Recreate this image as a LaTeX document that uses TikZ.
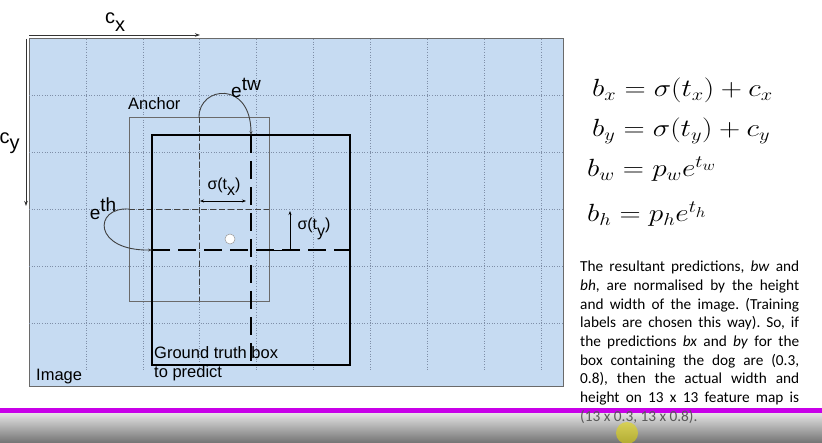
\documentclass[tikz,border=0pt]{standalone}
\usepackage{fontspec}
\setmainfont{Liberation Sans}
\newfontfamily\calib{Carlito}
\usetikzlibrary{arrows.meta}
\definecolor{imgblue}{HTML}{C6DBF2}
\definecolor{gridc}{HTML}{7F8FA8}
\definecolor{bordc}{HTML}{6A6A6A}
\definecolor{magbar}{HTML}{C800E8}
\frenchspacing
\tikzset{
  gridline/.style={gridc, line width=0.7pt, dash pattern=on 1pt off 1.6pt},
  lab/.style={inner sep=0pt, font=\fontsize{16.5}{19}\selectfont},
  biglab/.style={inner sep=0pt, font=\fontsize{20}{22}\selectfont},
  siglab/.style={inner sep=0pt, font=\fontsize{16}{18}\selectfont},
  eqn/.style={inner sep=0pt, anchor=base west, font=\fontsize{27}{31}\selectfont},
  para/.style={inner sep=0pt, anchor=base west, font=\calib\fontsize{15.3}{18.7}\selectfont},
  thindash/.style={black!75, line width=0.8pt, dash pattern=on 6pt off 3pt},
  thickdash/.style={black, line width=2.6pt, dash pattern=on 18pt off 8pt},
  axarrow/.style={black!80, line width=0.8pt, -{Stealth[length=5pt,width=3.5pt]}},
  curvearrow/.style={black!75, line width=0.9pt, -{Stealth[length=4pt,width=3pt]}},
  measarrow/.style={black, line width=0.8pt},
}
\newcommand{\eqstretch}[1]{\scalebox{1.18}[1]{#1}}
\begin{document}
\begin{tikzpicture}[x=1pt,y=-1pt]
\useasboundingbox (0,0) rectangle (822,443);
\fill[white] (0,0) rectangle (822,443);

% image area
\draw[fill=imgblue, draw=bordc, line width=1pt] (29,39) rectangle (563,387);
\foreach \x in {86,143,199.5,256,313,370,427,484,541}
  \draw[gridline] (\x,39) -- (\x,370);
\foreach \y in {95.5,152,209,266,323}
  \draw[gridline] (29,\y) -- (563,\y);

% axes
\coordinate (cxs) at (29,35);
\coordinate (cxe) at (200,35);
\coordinate (cys) at (26,39);
\coordinate (cye) at (26,206);
\draw[axarrow] (cxs) -- (cxe);
\draw[axarrow] (cys) -- (cye);
\node[biglab] (cxl) at (115,22) {c\raisebox{-0.38em}{x}};
\node[biglab] (cyl) at (9.5,143) {c\raisebox{-0.3em}{y}};

% anchor box
\coordinate (anw) at (129,117);
\coordinate (ase) at (269,301);
\draw[bordc, line width=0.9pt] (anw) rectangle (ase);
\coordinate (acT) at (199,117);
\coordinate (acB) at (199,301);
\coordinate (acL) at (129,209);
\coordinate (acR) at (269,209);
\draw[thindash] (acT) -- (acB);
\draw[thindash] (acL) -- (acR);

% ground truth box
\coordinate (gnw) at (152,135);
\coordinate (gse) at (350,365);
\draw[black, line width=2.6pt] (gnw) rectangle (gse);
\coordinate (gcT) at (251,135);
\coordinate (gcB) at (251,365);
\coordinate (gcL) at (152,250);
\coordinate (gcR) at (350,250);
\draw[thickdash] (gcT) -- (gcB);
\draw[thickdash] (gcL) -- (gcR);

% center point
\node[circle, fill=white, draw=black!40, line width=0.5pt, minimum size=10pt, inner sep=0pt] (cpt) at (230,239) {};

% e^tw curve
\draw[curvearrow] (acT) .. controls (199,86) and (251,80) .. (gcT);
\node[biglab, font=\fontsize{19}{21}\selectfont] (etw) at (246,88) {e\raisebox{0.4em}{tw}};
% e^th curve
\draw[curvearrow] (acL) .. controls (93,207) and (93,251) .. (gcL);
\node[biglab, font=\fontsize{19}{21}\selectfont] (eth) at (103,209) {e\raisebox{0.4em}{th}};

% sigma(tx)
\coordinate (sxa) at (200,201);
\coordinate (sxb) at (246,201);
\draw[measarrow, {Stealth[length=4pt,width=3pt]}-{Stealth[length=4pt,width=3pt]}] (sxa) -- (sxb);
\node[siglab] (sxl) at (224,187) {σ(t\raisebox{-0.4em}{x})};
% sigma(ty)
\coordinate (sya) at (270,250);
\coordinate (syc) at (290,250);
\coordinate (syb) at (290,211);
\draw[measarrow, -{Stealth[length=4pt,width=3pt]}] (sya) -- (syc) -- (syb);
\node[siglab] (syl) at (314,229) {σ(t\raisebox{-0.4em}{y})};

% labels
\node[lab, anchor=west] (anchorlbl) at (128,104) {Anchor};
\node[lab, anchor=west] (imglbl) at (36,377) {Image};
\node[lab, anchor=base west] (gt1) at (154,359) {Ground truth box};
\node[lab, anchor=base west] (gt2) at (154,378) {to predict};

% equations
\node[eqn] (eq1) at (592,97) {\eqstretch{$b_x = \sigma(t_x) + c_x$}};
\node[eqn] (eq2) at (592,137) {\eqstretch{$b_y = \sigma(t_y) + c_y$}};
\node[eqn] (eq3) at (587,177) {\eqstretch{$b_w = p_w e^{t_w}$}};
\node[eqn] (eq4) at (587,222) {\eqstretch{$b_h = p_h e^{t_h}$}};

% paragraph
\node[para] (p1) at (580,272) {\makebox[219pt][s]{The resultant predictions, \textit{bw} and}};
\node[para] (p2) at (580,290.6) {\makebox[219pt][s]{\textit{bh}, are normalised by the height}};
\node[para] (p3) at (580,309.3) {\makebox[219pt][s]{and width of the image. (Training}};
\node[para] (p4) at (580,328) {\makebox[219pt][s]{labels are chosen this way). So, if}};
\node[para] (p5) at (580,346.6) {\makebox[219pt][s]{the predictions \textit{bx} and \textit{by} for the}};
\node[para] (p6) at (580,365.3) {\makebox[219pt][s]{box containing the dog are (0.3,}};
\node[para] (p7) at (580,384) {\makebox[219pt][s]{0.8), then the actual width and}};
\node[para] (p8) at (580,402.6) {\makebox[219pt][s]{height on 13 x 13 feature map is}};

% screen bars
\fill[magbar] (0,408) rectangle (822,414);
\shade[top color=black!12, bottom color=black!55] (0,414) rectangle (822,443);
\node[para, text=black!65] (p9) at (580,421.5) {(13 x 0.3, 13 x 0.8).};
\fill[yellow!80!olive, opacity=0.55] (627,433) circle (11pt);
\end{tikzpicture}
\end{document}
